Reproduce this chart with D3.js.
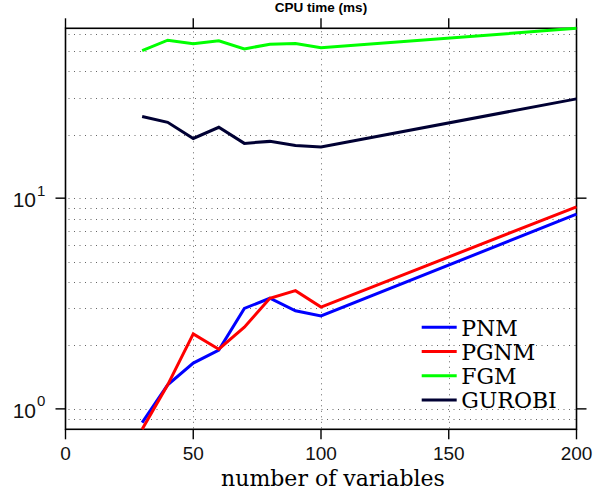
<!DOCTYPE html>
<html>
<head>
<meta charset="utf-8">
<script src="https://cdn.jsdelivr.net/npm/d3@7"></script>
<style>
  body { margin: 0; background: #fff; }
</style>
</head>
<body>
<div id="graph"></div>
<script>
// 数据
const nVars = [30, 40, 50, 60, 70, 80, 90, 100, 200]
const pnm = [0.86, 1.30, 1.65, 1.90, 3.00, 3.35, 2.92, 2.76, 8.4]
const pgnm = [0.80, 1.30, 2.27, 1.92, 2.44, 3.35, 3.64, 3.04, 9.1]
const fgm = [50.2, 56.2, 54.0, 55.8, 51.1, 53.8, 54.2, 51.7, 64.0]
const gurobi = [24.4, 22.9, 19.2, 21.7, 18.2, 18.6, 17.8, 17.5, 29.6]
const seriesNames = ["PNM", "PGNM", "FGM", "GUROBI"]
const seriesColors = ["#0000ff", "#ff0000", "#00ff00", "#000033"]
const xTicks = [0, 50, 100, 150, 200]
const yTicks = [1, 10]
const yExponents = ["0", "1"]

class CpuTimeChart {
    constructor() {
        // 初始化画布
        this._width = 610
        this._height = 493
        this._left = 65.5
        this._right = 576.5
        this._top = 28.3
        this._bottom = 429.3
        this._svg = d3.select("#graph").append("svg")
            .attr("width", this._width)
            .attr("height", this._height)
    }
    draw(series) {
        const svg = this._svg
        const allValues = series.flatMap(s => s.values)
        const x = d3.scaleLinear()
            .domain([0, 200])
            .range([this._left, this._right])
        // axis tight: log domain is just the data range
        const y = d3.scaleLog()
            .domain(d3.extent(allValues))
            .range([this._bottom, this._top])

        // 网格线 (dotted, major + log minor)
        const [y0, y1] = y.domain()
        const yGrid = y.ticks().filter(v => v >= y0 && v <= y1)
        const grid = svg.append("g")
            .attr("stroke", "#666")
            .attr("stroke-width", 1)
            .attr("stroke-dasharray", "1,4.5")
        grid.selectAll(".ygrid")
            .data(yGrid)
            .enter().append("line")
            .attr("class", "ygrid")
            .attr("x1", this._left + 3)
            .attr("x2", this._right)
            .attr("y1", d => Math.round(y(d)) + 0.5)
            .attr("y2", d => Math.round(y(d)) + 0.5)
        grid.selectAll(".xgrid")
            .data(xTicks.slice(1, -1))
            .enter().append("line")
            .attr("class", "xgrid")
            .attr("x1", d => Math.round(x(d)) + 0.5)
            .attr("x2", d => Math.round(x(d)) + 0.5)
            .attr("y1", this._top + 3)
            .attr("y2", this._bottom)

        // 坐标框和刻度
        svg.append("rect")
            .attr("x", this._left)
            .attr("y", this._top)
            .attr("width", this._right - this._left)
            .attr("height", this._bottom - this._top)
            .attr("fill", "none")
            .attr("stroke", "#000")
            .attr("stroke-width", 1.6)

        const ticks = svg.append("g")
            .attr("stroke", "#000")
            .attr("stroke-width", 1.4)
        ticks.selectAll(".xtb")
            .data(xTicks)
            .enter().append("line")
            .attr("x1", d => x(d)).attr("x2", d => x(d))
            .attr("y1", this._bottom).attr("y2", this._bottom + 10)
        ticks.selectAll(".xtt")
            .data(xTicks)
            .enter().append("line")
            .attr("x1", d => x(d)).attr("x2", d => x(d))
            .attr("y1", this._top).attr("y2", this._top - 10)
        ticks.selectAll(".ytl")
            .data(yTicks)
            .enter().append("line")
            .attr("x1", this._left - 10).attr("x2", this._left)
            .attr("y1", d => y(d)).attr("y2", d => y(d))
        ticks.selectAll(".ytr")
            .data(yTicks)
            .enter().append("line")
            .attr("x1", this._right).attr("x2", this._right + 10)
            .attr("y1", d => y(d)).attr("y2", d => y(d))

        // 刻度标签
        svg.append("g")
            .selectAll("text")
            .data(xTicks)
            .enter().append("text")
            .attr("x", d => x(d))
            .attr("y", 460)
            .attr("text-anchor", "middle")
            .attr("font-family", "Liberation Sans")
            .attr("font-size", 19)
            .attr("fill", "#111")
            .text(d => d)
        const yLab = svg.append("g")
            .attr("font-family", "Liberation Sans")
            .attr("fill", "#111")
        yLab.selectAll(".base")
            .data(yTicks)
            .enter().append("text")
            .attr("x", 36)
            .attr("y", d => y(d) + 9)
            .attr("text-anchor", "end")
            .attr("font-size", 21)
            .text("10")
        yLab.selectAll(".exp")
            .data(yTicks)
            .enter().append("text")
            .attr("x", 37)
            .attr("y", d => y(d) - 2.5)
            .attr("font-size", 15)
            .text((d, i) => yExponents[i])

        // 标题和轴标签
        svg.append("text")
            .attr("x", (this._left + this._right) / 2)
            .attr("y", 12)
            .attr("text-anchor", "middle")
            .attr("font-family", "Liberation Sans")
            .attr("font-weight", "bold")
            .attr("font-size", 13.5)
            .text("CPU time (ms)")
        svg.append("text")
            .attr("x", 333)
            .attr("y", 486)
            .attr("text-anchor", "middle")
            .attr("font-family", "DejaVu Serif")
            .attr("font-size", 22)
            .text("number of variables")

        // 折线
        const line = d3.line()
            .x((d, i) => x(nVars[i]))
            .y(d => y(d))
        svg.append("g")
            .selectAll("path")
            .data(series)
            .enter().append("path")
            .attr("d", d => line(d.values))
            .attr("fill", "none")
            .attr("stroke", d => d.color)
            .attr("stroke-width", 3)

        // 图例 (no box)
        const legend = svg.append("g")
            .selectAll("g")
            .data(series)
            .enter().append("g")
            .attr("transform", (d, i) => `translate(421.7, ${327.3 + i * 24.2})`)
        legend.append("line")
            .attr("x1", 0).attr("x2", 35)
            .attr("stroke", d => d.color)
            .attr("stroke-width", 3)
        legend.append("text")
            .attr("x", 39.5)
            .attr("y", 8.2)
            .attr("font-family", "DejaVu Serif")
            .attr("font-size", 22)
            .attr("textLength", null)
            .text(d => d.name)
    }
}

const chart = new CpuTimeChart()
chart.draw([pnm, pgnm, fgm, gurobi].map((values, i) => ({
    name: seriesNames[i], color: seriesColors[i], values: values
})))
</script>
</body>
</html>
